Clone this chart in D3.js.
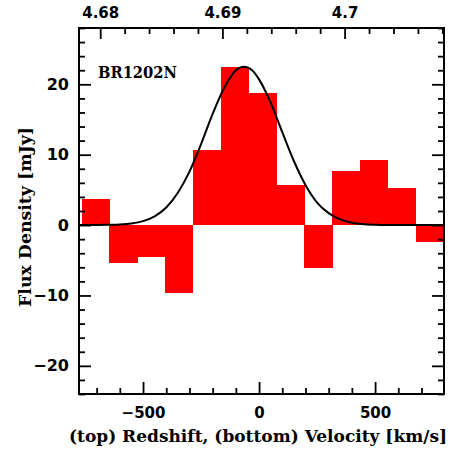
<!DOCTYPE html>
<html>
<head>
<meta charset="utf-8">
<script src="https://cdn.jsdelivr.net/npm/d3@7"></script>
<style>
  html, body { margin: 0; padding: 0; background: #fff; }
  svg { display: block; }
</style>
</head>
<body>
<svg id="chart" width="453" height="454"></svg>
<script>
// ---------- data ----------
const binCenters = [-705, -585, -465, -345, -225, -105, 15, 135, 255, 375, 495, 615, 735]; // km/s
const binWidth = 120; // km/s
const fluxValues = [3.7, -5.4, -4.6, -9.7, 10.7, 22.4, 18.8, 5.7, -6.1, 7.7, 9.3, 5.2, -2.4]; // mJy

const fitVelocity = [-776, -700, -650, -600, -550, -500, -450, -400, -350, -300, -250, -200, -150, -100, -65, -30, 0, 50, 100, 150, 200, 250, 300, 350, 400, 450, 500, 550, 600, 700, 797];
const fitFlux     = [0, 0.01, 0.03, 0.08, 0.23, 0.56, 1.24, 2.5, 4.6, 7.6, 11.5, 15.8, 19.5, 22.0, 22.5, 22.0, 20.7, 17.4, 13.2, 9.1, 5.7, 3.2, 1.7, 0.8, 0.33, 0.13, 0.05, 0.01, 0, 0, 0];

const velocityTicks = [-500, 0, 500];
const velocityMinorTicks = [-700, -600, -400, -300, -200, -100, 100, 200, 300, 400, 600, 700];
const fluxTicks = [-20, -10, 0, 10, 20];
const fluxMinorTicks = [-24, -22, -18, -16, -14, -12, -8, -6, -4, -2, 2, 4, 6, 8, 12, 14, 16, 18, 22, 24, 26, 28];
const redshiftTicks = [4.68, 4.69, 4.70];
const redshiftTickLabels = ["4.68", "4.69", "4.7"];
const redshiftMinorTicks = [4.676, 4.678, 4.682, 4.684, 4.686, 4.688, 4.692, 4.694, 4.696, 4.698, 4.702, 4.704, 4.706, 4.708];
const systemicRedshift = 4.693;
const lightSpeed = 299792.458; // km/s
const sourceName = "BR1202N";

// ---------- layout ----------
const L = 79, R = 444, T = 28, B = 394;
const svg = d3.select("#chart");

const x = d3.scaleLinear().domain([-776, 797]).range([L, R]);
const y = d3.scaleLinear().domain([-24, 28]).range([B, T]);
const toZ = v => systemicRedshift + v * (1 + systemicRedshift) / lightSpeed;
const xTop = d3.scaleLinear().domain(x.domain().map(toZ)).range([L, R]);

// ---------- bars ----------
svg.append("g").attr("shape-rendering", "crispEdges").selectAll("rect")
  .data(binCenters.map((c, i) => ({c, f: fluxValues[i]})))
  .join("rect")
  .attr("x", d => x(d.c - binWidth / 2))
  .attr("width", d => x(d.c + binWidth / 2) - x(d.c - binWidth / 2) + 0.5)
  .attr("y", d => y(Math.max(0, d.f)))
  .attr("height", d => Math.abs(y(d.f) - y(0)))
  .attr("fill", "#ff0000");

// ---------- fit curve ----------
svg.append("path")
  .datum(fitVelocity.map((v, i) => [v, fitFlux[i]]))
  .attr("fill", "none")
  .attr("stroke", "#000")
  .attr("stroke-width", 2)
  .attr("d", d3.line().x(d => x(d[0])).y(d => y(d[1])).curve(d3.curveMonotoneX));

// ---------- axes ----------
const numFont = "'DejaVu Sans', sans-serif";
const serifFont = "'DejaVu Serif', serif";

function styleAxis(g) {
  g.select(".domain").remove();
  g.selectAll(".tick line").attr("stroke", "#000").attr("stroke-width", 1.8);
  g.selectAll("text").attr("font-family", numFont).attr("font-weight", "bold").attr("font-size", 15).attr("fill", "#000");
}

// bottom
svg.append("g").attr("transform", `translate(0,${B})`)
  .call(d3.axisBottom(x).tickValues(velocityTicks).tickSizeInner(-12).tickSizeOuter(0).tickPadding(13)
    .tickFormat(d => d3.format("d")(d).replace("-", "\u2212")))
  .call(styleAxis);
svg.append("g").attr("transform", `translate(0,${B})`)
  .call(d3.axisBottom(x).tickValues(velocityMinorTicks).tickSizeInner(-6).tickSizeOuter(0).tickFormat(""))
  .call(styleAxis);

// top
svg.append("g").attr("transform", `translate(0,${T})`)
  .call(d3.axisTop(xTop).tickValues(redshiftTicks).tickSizeInner(-11).tickSizeOuter(0).tickPadding(10)
    .tickFormat((d, i) => redshiftTickLabels[i]))
  .call(styleAxis);
svg.append("g").attr("transform", `translate(0,${T})`)
  .call(d3.axisTop(xTop).tickValues(redshiftMinorTicks.filter(z => z >= xTop.domain()[0] && z <= xTop.domain()[1]))
    .tickSizeInner(-6).tickSizeOuter(0).tickFormat(""))
  .call(styleAxis);

// left
svg.append("g").attr("transform", `translate(${L},0)`)
  .call(d3.axisLeft(y).tickValues(fluxTicks).tickSizeInner(-12).tickSizeOuter(0).tickPadding(10)
    .tickFormat(d => d3.format("d")(d).replace("-", "\u2212")))
  .call(styleAxis)
  .call(g => g.selectAll("text").attr("font-size", 16));
svg.append("g").attr("transform", `translate(${L},0)`)
  .call(d3.axisLeft(y).tickValues(fluxMinorTicks).tickSizeInner(-6).tickSizeOuter(0).tickFormat(""))
  .call(styleAxis);

// right
svg.append("g").attr("transform", `translate(${R},0)`)
  .call(d3.axisRight(y).tickValues(fluxTicks).tickSizeInner(-12).tickSizeOuter(0).tickFormat(""))
  .call(styleAxis);
svg.append("g").attr("transform", `translate(${R},0)`)
  .call(d3.axisRight(y).tickValues(fluxMinorTicks).tickSizeInner(-6).tickSizeOuter(0).tickFormat(""))
  .call(styleAxis);

// frame
svg.append("rect")
  .attr("x", L).attr("y", T).attr("width", R - L).attr("height", B - T)
  .attr("fill", "none").attr("stroke", "#000").attr("stroke-width", 2);

// ---------- text ----------
svg.append("text")
  .attr("x", 98).attr("y", 78)
  .attr("font-family", serifFont).attr("font-weight", "bold").attr("font-size", 16)
  .attr("textLength", 79).attr("lengthAdjust", "spacingAndGlyphs")
  .text(sourceName);

svg.append("text")
  .attr("x", 258).attr("y", 442)
  .attr("text-anchor", "middle")
  .attr("font-family", serifFont).attr("font-weight", "bold").attr("font-size", 16)
  .attr("textLength", 378).attr("lengthAdjust", "spacingAndGlyphs")
  .text("(top) Redshift, (bottom) Velocity [km/s]");

svg.append("text")
  .attr("transform", "translate(31,217) rotate(-90)")
  .attr("text-anchor", "middle")
  .attr("font-family", serifFont).attr("font-weight", "bold").attr("font-size", 16)
  .attr("textLength", 180).attr("lengthAdjust", "spacingAndGlyphs")
  .text("Flux Density [mJy]");
</script>
</body>
</html>
